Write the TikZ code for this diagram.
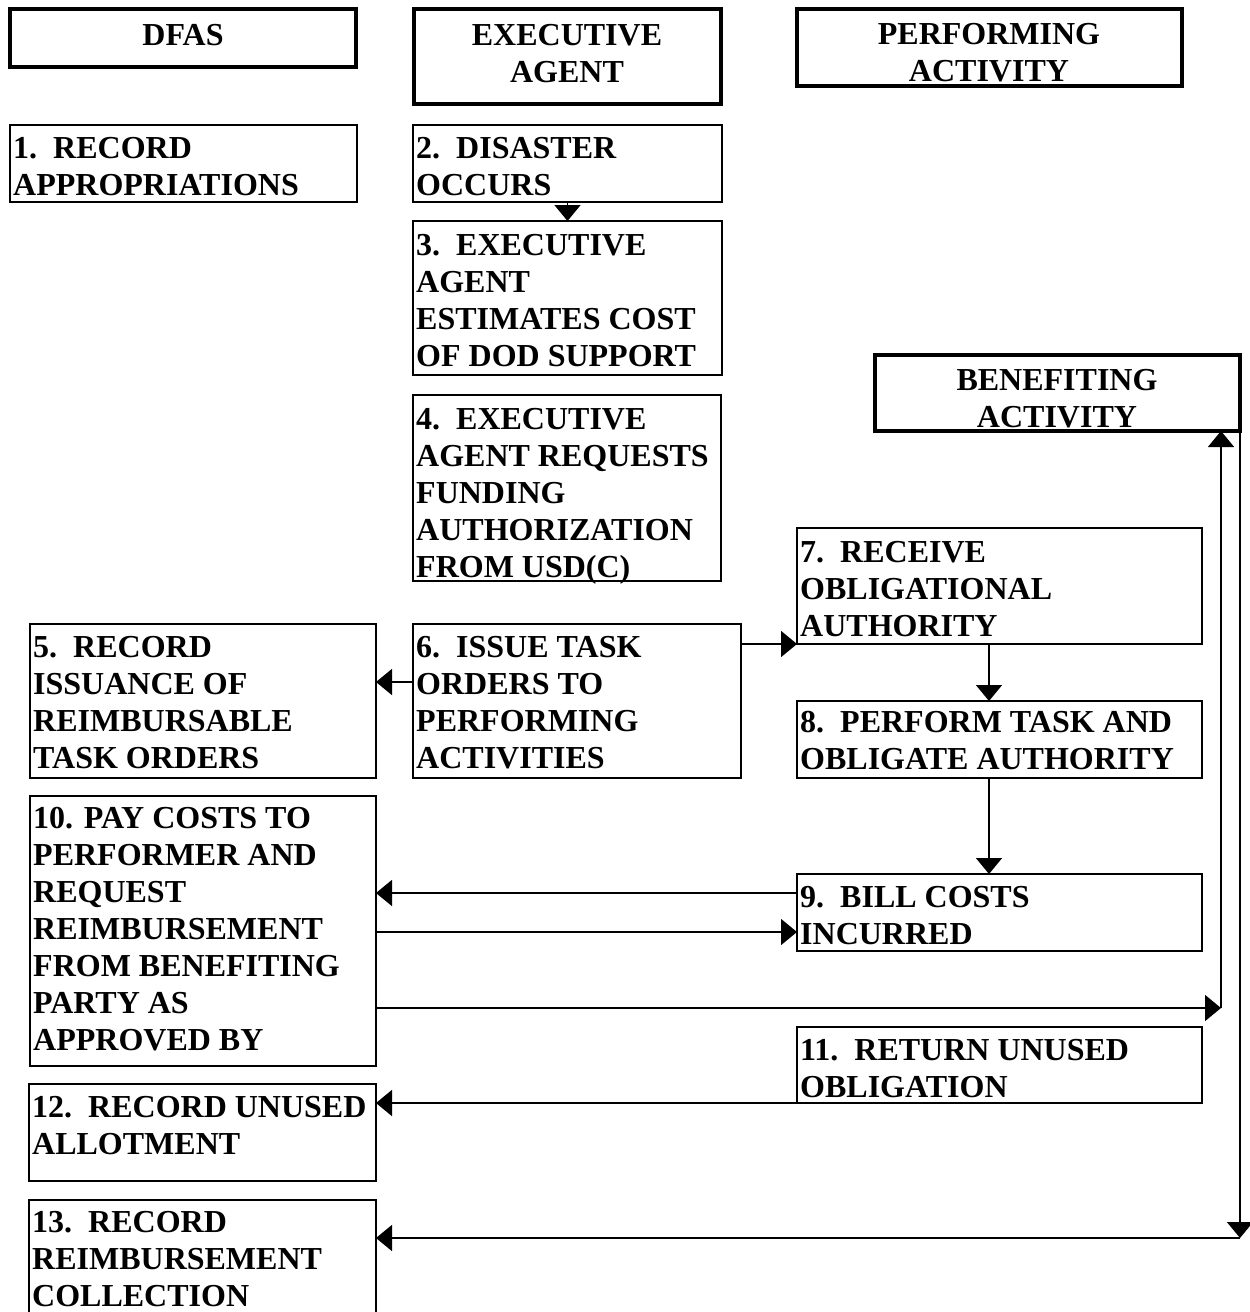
\documentclass[tikz,border=0pt]{standalone}
\usepackage{fontspec}
\setmainfont{Liberation Serif}
\usetikzlibrary{arrows.meta}
\newcommand\mkbox[6]{\node[#6, minimum width={#4-#2}, minimum height={#5-#3}] (#1) at (#2,#3) {};}
\newcommand\ltxt[1]{\begin{tabular}[t]{@{}l@{}}#1\end{tabular}}
\newcommand\ctxt[1]{\begin{tabular}[t]{@{}c@{}}#1\end{tabular}}
\begin{document}
\begin{tikzpicture}[x=1pt,y=-1pt,
  box/.style={draw, line width=1.5pt, inner sep=0pt, outer sep=0pt, anchor=north west},
  hdr/.style={draw, line width=4.5pt, inner sep=0pt, outer sep=0pt, anchor=north west},
  txt/.style={inner sep=0pt, anchor=base west, font=\fontsize{32}{37}\selectfont\bfseries},
  htxt/.style={inner sep=0pt, anchor=base, font=\fontsize{32}{37}\selectfont\bfseries},
  arr/.style={line width=1.5pt, -{Triangle[length=16pt,width=26pt]}}]
\useasboundingbox (0,0) rectangle (1250,1312);
\fill[white] (0,0) rectangle (1250,1312);
\clip (0,0) rectangle (1250,1312);

% headers
\mkbox{dfas}{10}{9}{356}{67}{hdr}
\mkbox{exec}{414}{9}{721}{104}{hdr}
\mkbox{perf}{797}{9}{1182}{86}{hdr}
\mkbox{ben}{875}{355}{1240}{431}{hdr}
\node[htxt] (tdfas) at (183,45) {\ctxt{DFAS}};
\node[htxt] (texec) at (567,45) {\ctxt{EXECUTIVE\\AGENT}};
\node[htxt] (tperf) at (989,44) {\ctxt{PERFORMING\\ACTIVITY}};
\node[htxt] (tben) at (1057,390) {\ctxt{BENEFITING\\ACTIVITY}};

% step boxes
\mkbox{b1}{10}{125}{357}{202}{box}
\mkbox{b2}{413}{125}{722}{202}{box}
\mkbox{b3}{413}{221}{722}{375}{box}
\mkbox{b4}{413}{395}{721}{581}{box}
\mkbox{b5}{30}{624}{376}{778}{box}
\mkbox{b6}{413}{624}{741}{778}{box}
\mkbox{b7}{797}{528}{1202}{644}{box}
\mkbox{b8}{797}{701}{1202}{778}{box}
\mkbox{b9}{797}{874}{1202}{951}{box}
\mkbox{b10}{30}{796}{376}{1066}{box}
\mkbox{b11}{797}{1027}{1202}{1103}{box}
\mkbox{b12}{29}{1084}{376}{1181}{box}
\mkbox{b13}{29}{1200}{376}{1340}{box}

\node[txt] (t1) at (13,158) {\ltxt{1.\ \ RECORD\\APPROPRIATIONS}};
\node[txt] (t2) at (416,158) {\ltxt{2.\ \ DISASTER\\OCCURS}};
\node[txt] (t3) at (416,255) {\ltxt{3.\ \ EXECUTIVE\\AGENT\\ESTIMATES COST\\OF DOD SUPPORT}};
\node[txt] (t4) at (416,429) {\ltxt{4.\ \ EXECUTIVE\\AGENT REQUESTS\\FUNDING\\AUTHORIZATION\\FROM USD(C)}};
\node[txt] (t5) at (33,657) {\ltxt{5.\ \ RECORD\\ISSUANCE OF\\REIMBURSABLE\\TASK ORDERS}};
\node[txt] (t6) at (416,657) {\ltxt{6.\ \ ISSUE TASK\\ORDERS TO\\PERFORMING\\ACTIVITIES}};
\node[txt] (t7) at (800,562) {\ltxt{7.\ \ RECEIVE\\OBLIGATIONAL\\AUTHORITY}};
\node[txt] (t8) at (800,732) {\ltxt{8.\ \ PERFORM TASK AND\\OBLIGATE AUTHORITY}};
\node[txt] (t9) at (800,907) {\ltxt{9.\ \ BILL COSTS\\INCURRED}};
\node[txt] (t10) at (33,828) {\ltxt{10. PAY COSTS TO\\PERFORMER AND\\REQUEST\\REIMBURSEMENT\\FROM BENEFITING\\PARTY AS\\APPROVED BY}};
\node[txt] (t11) at (800,1060) {\ltxt{11.\ \ RETURN UNUSED\\OBLIGATION}};
\node[txt] (t12) at (32,1117) {\ltxt{12.\ \ RECORD UNUSED\\ALLOTMENT}};
\node[txt] (t13) at (32,1232) {\ltxt{13.\ \ RECORD\\REIMBURSEMENT\\COLLECTION}};

% helper coordinates
\coordinate (xa) at (989,0);
\coordinate (y682) at (0,682);
\coordinate (y893) at (0,893);
\coordinate (y932) at (0,932);
\coordinate (c1) at (1221,1008);
\coordinate (c2) at (1240,1238);

% connectors
\draw[arr] (b2.south) -- (b3.north);
\draw[arr] (b6.west |- y682) -- (b5.east |- y682);
\draw[arr] (b6.east |- b7.south west) -- (b7.south west);
\draw[arr] (xa |- b7.south) -- (xa |- b8.north);
\draw[arr] (xa |- b8.south) -- (xa |- b9.north);
\draw[arr] (b9.west |- y893) -- (b10.east |- y893);
\draw[arr] (b10.east |- y932) -- (b9.west |- y932);
\draw[arr] (b10.east |- c1) -- (c1);
\draw[arr] (c1) -- (c1 |- ben.south);
\draw[arr] (c2 |- ben.south) -- (c2);
\draw[arr] (c2) -- (b13.east |- c2);
\draw[arr] (b11.south west) -- (b12.east |- b11.south west);
\end{tikzpicture}
\end{document}
